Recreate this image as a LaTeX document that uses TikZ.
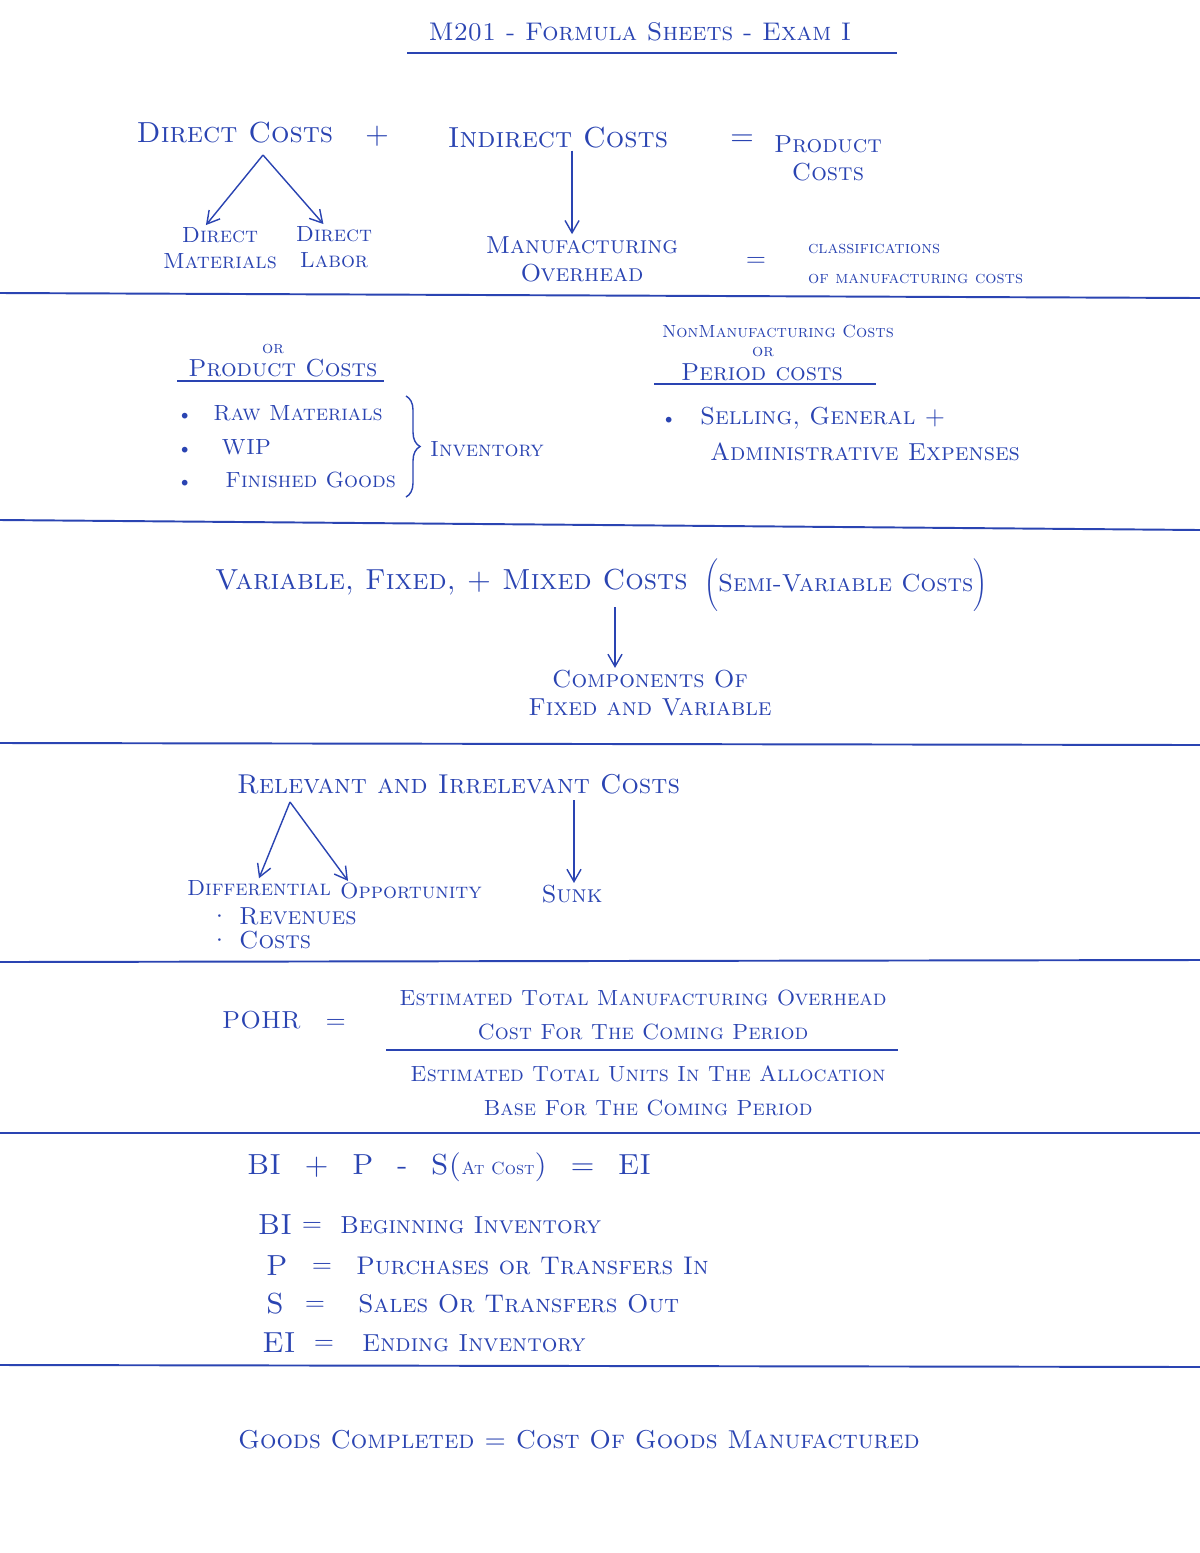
\documentclass[tikz,border=0pt]{standalone}
\usetikzlibrary{arrows.meta,calc,decorations.pathreplacing}

\definecolor{ink}{RGB}{42,68,178}
\tikzset{
  hand/.style={text=ink, inner sep=1pt, font=\fontsize{14}{16}\selectfont\scshape},
  handbig/.style={hand, font=\fontsize{16.5}{20}\selectfont\scshape},
  handmid/.style={hand, font=\fontsize{12.5}{15}\selectfont\scshape},
  handsmall/.style={hand, font=\fontsize{10}{12}\selectfont\scshape},
  sepline/.style={draw=ink, line width=1.1pt},
  pointer/.style={draw=ink, line width=0.8pt, -{Straight Barb[length=7pt,width=8pt]}},
  bracket/.style={draw=ink, line width=0.8pt, decorate, decoration={brace, amplitude=8pt}},
}

\begin{document}
\begin{tikzpicture}[x=0.02cm, y=-0.02cm]
    \useasboundingbox[fill=white] (0,0) rectangle (1200,1553);

    % title
    \node[hand, font=\fontsize{14.5}{17}\selectfont\scshape] (title) at (640,32) {M201 - Formula Sheets - Exam I};
    \draw[sepline] (407,53) -- (897,53);

    % product costs
    \node[handbig] (dc) at (235,133) {Direct Costs};
    \node[handbig] (plus) at (377,136) {+};
    \node[handbig] (ic) at (558,138) {Indirect Costs};
    \node[handbig] (eqpc) at (742,140) {=};
    \node[hand, align=center] (pc) at (828,158) {Product\\Costs};
    \node[handmid, align=center] (dm) at (220,248) {Direct\\Materials};
    \node[handmid, align=center] (dl) at (334,247) {Direct\\Labor};
    \node[hand, align=center] (mo) at (582,259) {Manufacturing\\Overhead};
    \node[hand] (eqcl) at (756,262) {=};
    \node[handsmall, align=left, anchor=west] (cl) at (806,264) {classifications\\[5pt]of manufacturing costs};
    \coordinate (dcv) at (263,155);
    \draw[pointer] (dcv) -- ([xshift=-8]dm.north);
    \draw[pointer] (dcv) -- ([xshift=-6]dl.north);
    \draw[pointer] ([xshift=8]ic.south) -- ([xshift=8]ic.south |- mo.north);
    \draw[sepline] (0,293) -- (1200,298);

    % product vs period costs
    \node[handsmall] (orpr) at (273,349) {or};
    \node[hand] (prc) at (283,368) {Product Costs};
    \draw[sepline] (177,381) -- (384,381);
    \node[handmid, anchor=west] (rm) at (176,413) {{\small\textbullet}\quad Raw Materials};
    \node[handmid, anchor=west] (wip) at (176,447) {{\small\textbullet}\quad\ WIP};
    \node[handmid, anchor=west] (fg) at (176,480) {{\small\textbullet}\quad\, Finished Goods};
    \draw[bracket] (406,396) -- (406,497);
    \node[handmid] (inv) at (487,449) {Inventory};
    \node[handsmall] (nmc) at (778,331) {NonManufacturing Costs};
    \node[handsmall] (orpe) at (763,352) {or};
    \node[hand] (pec) at (762,372) {Period costs};
    \draw[sepline] (654,384) -- (876,384);
    \node[hand, anchor=west] (sga) at (660,418) {{\small\textbullet}\quad Selling, General +};
    \node[hand, anchor=west] (adm) at (708,452) {Administrative Expenses};
    \draw[sepline] (0,520) -- (1200,530);

    % cost behaviour
    \node[handbig, anchor=west] (vfm) at (213,582) {Variable, Fixed, + Mixed Costs};
    \node[hand, anchor=west] (svc) at (702,585) {\(\Biggl(\)Semi-Variable Costs\(\Biggr)\)};
    \coordinate (mixv) at (615,607);
    \node[hand, align=center] (comp) at (650,693) {Components Of\\Fixed and Variable};
    \draw[pointer] (mixv) -- (mixv |- comp.north);
    \draw[sepline] (0,743) -- (1200,745);

    % relevant costs
    \node[hand, font=\fontsize{15.5}{18}\selectfont\scshape, anchor=west] (rel) at (235,784) {Relevant and Irrelevant Costs};
    \coordinate (relv) at (290,802);
    \coordinate (irrv) at (574,800);
    \node[handmid] (dif) at (259,888) {Differential};
    \node[handmid] (opp) at (411,891) {Opportunity};
    \node[hand] (sunk) at (572,894) {Sunk};
    \node[hand, anchor=west] (rev) at (207,916) {\textperiodcentered\ Revenues};
    \node[hand, anchor=west] (cst) at (207,940) {\textperiodcentered\ Costs};
    \draw[pointer] (relv) -- (dif.north);
    \draw[pointer] (relv) -- ($(opp.north west)+(10,0)$);
    \draw[pointer] (irrv) -- (irrv |- sunk.north);
    \draw[sepline] (0,962) -- (1200,960);

    % predetermined overhead rate
    \node[hand, anchor=west] (pohr) at (220,1020) {POHR\quad=};
    \node[handmid, align=center] (num) at (643,1015) {Estimated Total Manufacturing Overhead\\[4pt]Cost For The Coming Period};
    \node[handmid, align=center] (den) at (648,1091) {Estimated Total Units In The Allocation\\[4pt]Base For The Coming Period};
    \draw[sepline] (386,1050) -- (898,1050);
    \draw[sepline] (0,1133) -- (1200,1133);

    % inventory equation
    \node[handbig, anchor=west] (ieq) at (245,1167) {BI\hspace{0.8em}+\hspace{0.8em}P\hspace{0.8em}-\hspace{0.8em}S({\fontsize{10}{12}\selectfont At Cost})\hspace{0.8em}=\hspace{0.8em}EI};
    \node[handbig] (bi) at (275,1225) {BI};
    \node[handbig] (p) at (277,1266) {P};
    \node[handbig] (s) at (275,1304) {S};
    \node[handbig] (ei) at (279,1343) {EI};
    \node[hand] (eqbi) at (312,1227) {=};
    \node[hand] (eqp) at (322,1268) {=};
    \node[hand] (eqs) at (315,1306) {=};
    \node[hand] (eqei) at (324,1345) {=};
    \node[hand, anchor=west] (bit) at (338,1225) {Beginning Inventory};
    \node[hand, font=\fontsize{14.5}{17}\selectfont\scshape, anchor=west] (pt) at (354,1266) {Purchases or Transfers In};
    \node[hand, font=\fontsize{14.5}{17}\selectfont\scshape, anchor=west] (st) at (356,1304) {Sales Or Transfers Out};
    \node[hand, anchor=west] (eit) at (360,1343) {Ending Inventory};
    \draw[sepline] (0,1365) -- (1200,1367);

    % goods completed
    \node[hand, font=\fontsize{14.7}{17}\selectfont\scshape, anchor=west] (gc) at (236,1440) {Goods Completed = Cost Of Goods Manufactured};
\end{tikzpicture}
\end{document}
